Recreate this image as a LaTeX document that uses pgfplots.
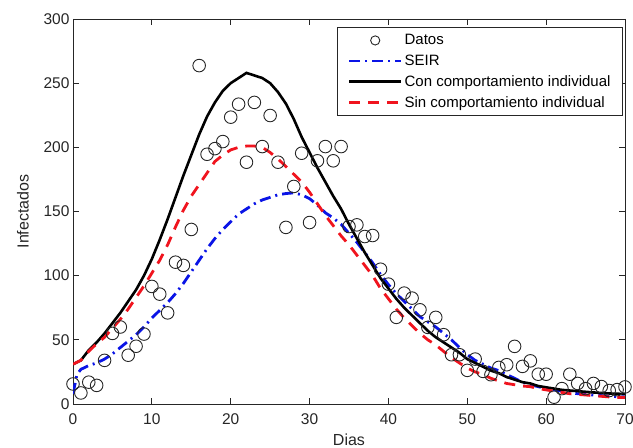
\documentclass[border=0pt]{standalone}
\usepackage{pgfplots}
\pgfplotsset{compat=1.18}
\usepackage{pgfplotstable}
\usepackage{fontspec}
\setmainfont{Liberation Sans}
\definecolor{seirblue}{RGB}{10,20,230}
\definecolor{sinred}{RGB}{240,20,30}

\pgfplotstableread{
d v
0 15.6
1 8.6
2 17
3 14.5
4 34
5 55
6 60
7 38
8 45
9 54.5
10 91.6
11 85.6
12 71
13 110.5
14 108
15 136
16 263.7
17 194.6
18 199
19 204.5
20 223.5
21 233.6
22 188.4
23 235
24 200.6
25 224.8
26 188.4
27 137.6
28 169.5
29 195.4
30 141.4
31 189.5
32 200.6
33 189.5
34 200.6
35 138.3
36 139.6
37 130.5
38 131.3
39 105
40 93.4
41 67.5
42 86.4
43 82.5
44 73.4
45 59.7
46 67.5
47 54
48 38.4
49 38.4
50 26.2
51 35
52 25.4
53 22.8
54 28.5
55 30.6
56 44.9
57 29.3
58 33.6
59 23.2
60 23.2
61 5.3
62 12
63 23.2
64 16
65 12
66 16
67 13.6
68 10.5
69 11.2
70 13.3
}\datos

\pgfplotstableread{
d v
0 8
0.5 23
1 27
2 30
3 32
4 35
5 39
6 44
7 49
8 54
9 60
10 67
11 73
12 79
13 86
14 94
15 103
16 112
17 121
18 129
19 136
20 142
21 148
22 152
23 156
24 159
25 161
26 163
27 164
28 164.5
29 163
30 160
31 155
32 149
33 145
34 140
35 133
36 126
37 118
38 110
39 101
40 93
41 86
42 80
43 74
44 68
45 64
46 60
47 55
48 50
49 44
50 38.5
51 34
52 31
53 28
54 26
55 23
56 20
57 17
58 15
59 13.5
60 12
61 11
62 10
63 9
64 8
65 7.5
66 7
67 6.5
68 6
69 5.7
70 5.5
}\seir

\pgfplotstableread{
d v
0 31
1 34
2 42
3 48
4 55
5 63
6 71
7 80
8 89
9 100
10 113
11 128
12 144
13 161
14 178
15 194
16 210
17 224
18 235
19 244
20 250
21 254
22 258
23 256
24 254
25 250
26 243
27 234
28 222
29 208
30 196
31 184
32 173
33 162
34 152
35 140
36 129
37 118
38 108
39 98
40 90
41 82
42 75
43 69
44 63
45 57
46 52
47 48
48 44
49 40
50 35
51 32
52 29
53 26
54 24
55 21
56 19
57 17
58 16
59 14
60 13
61 12
62 11
63 10.5
64 10
65 9.5
66 9
67 8.6
68 8.2
69 8
70 7.8
}\con

\pgfplotstableread{
d v
0 31
1 34
2 41
3 47
4 52
5 59
6 66
7 74
8 83
9 92
10 102
11 112
12 124
13 138
14 151
15 162
16 171
17 180
18 189
19 194
20 198
21 200
22 201
23 201
24 200
25 196
26 191
27 185
28 179
29 173
30 165
31 156
32 147
33 139
34 131
35 124
36 116
37 108
38 100
39 90
40 82
41 74
42 67
43 61
44 55
45 50
46 46
47 41
48 36
49 32
50 28
51 25
52 23
53 20
54 18
55 16
56 15
57 14
58 13.5
59 12
60 11
61 10
62 9
63 8
64 7.5
65 7
66 6.5
67 6
68 5.5
69 5.2
70 5
}\sin

\begin{document}
\begin{tikzpicture}
\begin{axis}[
  scale only axis,
  width=552pt, height=385pt,
  xmin=0, xmax=70, ymin=0, ymax=300,
  xtick={0,10,...,70}, ytick={0,50,...,300},
  tick align=inside,
  major tick length=6pt,
  axis line style={line width=0.9pt, black!85},
  every tick/.style={black!85, line width=0.8pt},
  ticklabel style={font=\fontsize{15.5}{18}\selectfont, text=black!85},
  xticklabel style={yshift=-6pt},
  /pgf/number format/assume math mode=true,
  xlabel={Dias}, ylabel={Infectados},
  label style={font=\fontsize{16}{19}\selectfont, text=black!85},
  xlabel style={yshift=-3pt},
  ylabel style={yshift=8pt},
  legend style={at={(axis description cs:0.9964,0.979)}, anchor=north east,
    draw=black!85, line width=0.9pt, font=\fontsize{15}{18}\selectfont,
    row sep=4.6pt, inner xsep=10pt, inner ysep=5pt},
  legend cell align=left,
  legend image code/.code={\draw[mark repeat=2,mark phase=2,#1] plot coordinates {(0pt,0pt) (26pt,0pt) (52pt,0pt)};},
]
\addplot[only marks, mark=o, mark size=6.3pt, black!85, line width=0.9pt,
  legend image post style={mark size=4.6pt}] table[x=d,y=v] {\datos};
\addlegendentry{Datos}
\addplot[seirblue, line width=2.8pt, dash pattern=on 11pt off 5pt on 2pt off 5pt] table[x=d,y=v] {\seir};
\addlegendentry{SEIR}
\addplot[black, line width=2.6pt] table[x=d,y=v] {\con};
\addlegendentry{Con comportamiento individual}
\addplot[sinred, line width=2.8pt, dash pattern=on 11pt off 8pt] table[x=d,y=v] {\sin};
\addlegendentry{Sin comportamiento individual}
\end{axis}
\pgfresetboundingbox
\path[use as bounding box] ([shift={(-73pt,-44pt)}]current axis.south west) rectangle ([shift={(8pt,19pt)}]current axis.north east);
\end{tikzpicture}
\end{document}
